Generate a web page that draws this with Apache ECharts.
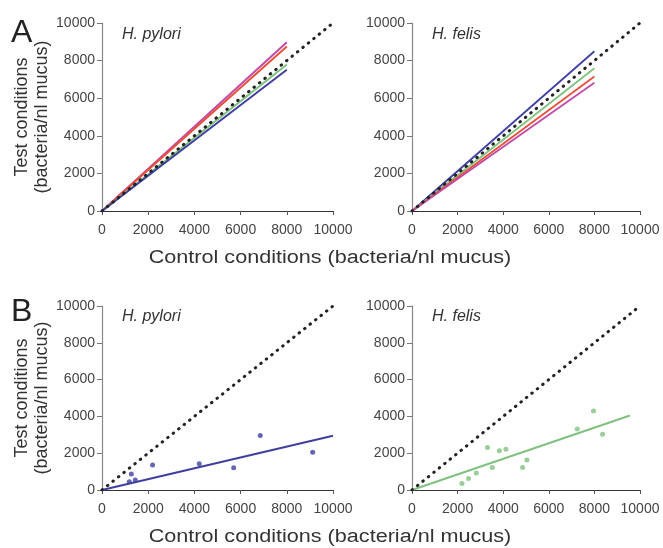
<!DOCTYPE html>
<html><head><meta charset="utf-8">
<script src="https://cdn.jsdelivr.net/npm/echarts@6/dist/echarts.min.js"></script>
<style>html,body{margin:0;padding:0;background:#fff}#c{width:663px;height:548px}</style>
</head><body><div id="c"></div>
<script>
// Axis ticks
var tickValues = [0, 2000, 4000, 6000, 8000, 10000];
// Identity reference line
var identityLine = [[0, 0], [10000, 10000]];
// Panel A, H. pylori: lines from origin to x=8000
var aPyloriNames = ['magenta', 'red', 'green', 'blue'];
var aPyloriEnd = [8980, 8750, 7790, 7510];
// Panel A, H. felis
var aFelisNames = ['blue', 'green', 'red', 'magenta'];
var aFelisEnd = [8500, 7590, 7150, 6820];
var lineX = 8000;
// Panel B, H. pylori points
var bPyloriX = [1180, 1270, 1440, 2190, 4210, 5700, 6850, 9120];
var bPyloriY = [450, 870, 545, 1360, 1420, 1215, 2960, 2050];
var bPyloriFit = [[0, 0], [10000, 2950]];
// Panel B, H. felis points
var bFelisX = [2190, 2480, 2820, 3310, 3520, 3830, 4120, 4850, 5040, 7250, 7960, 8360];
var bFelisY = [360, 630, 930, 2310, 1220, 2130, 2220, 1220, 1630, 3310, 4300, 3030];
var bFelisFit = [[0, 0], [9560, 4050]];

var colors = {magenta: '#c04aa6', red: '#e8503a', green: '#7fc17f', blue: '#3f3fa0'};
var FONT = '"Liberation Sans", Arial, sans-serif';

var grids = [
  {left: 102, top: 23, width: 231, height: 188},
  {left: 412, top: 23, width: 228, height: 188},
  {left: 102, top: 306, width: 231, height: 184},
  {left: 412, top: 306, width: 228, height: 184}
];

function xAx(i) {
  return {gridIndex: i, type: 'value', min: tickValues[0], max: tickValues[tickValues.length - 1], interval: tickValues[1] - tickValues[0],
    axisLine: {lineStyle: {color: '#333', width: 1.2}},
    axisTick: {show: true, length: 4, lineStyle: {color: '#555'}},
    splitLine: {show: false},
    axisLabel: {color: '#444', fontSize: 14, fontFamily: FONT, margin: 12, formatter: function (v) { return String(v); }}};
}
function yAx(i) {
  var o = {gridIndex: i, type: 'value', min: tickValues[0], max: tickValues[tickValues.length - 1], interval: tickValues[1] - tickValues[0],
    axisLine: {show: true, lineStyle: {color: '#888', width: 1.2}},
    axisTick: {show: true, length: 5, lineStyle: {color: '#777'}},
    splitLine: {show: false},
    axisLabel: {color: '#444', fontSize: 14, fontFamily: FONT, margin: 7, formatter: function (v) { return String(v); }}};
  if (i === 0 || i === 2) {
    o.name = 'Test conditions\n(bacteria/nl mucus)';
    o.nameLocation = 'middle';
    o.nameRotate = 90;
    o.nameGap = 50;
    o.nameTextStyle = {color: '#333', fontSize: 18, fontFamily: FONT, lineHeight: 20};
  }
  return o;
}

var series = [];
function dotted(i) {
  series.push({type: 'line', xAxisIndex: i, yAxisIndex: i, data: identityLine, symbol: 'none',
    lineStyle: {color: '#222', width: 3, type: [0.5, 6.5], cap: 'round'}, z: 5, silent: true});
}
for (var i = 0; i < 4; i++) dotted(i);
aPyloriNames.forEach(function (n, k) {
  series.push({type: 'line', xAxisIndex: 0, yAxisIndex: 0, symbol: 'none',
    data: [[0, 0], [lineX, aPyloriEnd[k]]], lineStyle: {color: colors[n], width: 2}});
});
aFelisNames.forEach(function (n, k) {
  series.push({type: 'line', xAxisIndex: 1, yAxisIndex: 1, symbol: 'none',
    data: [[0, 0], [lineX, aFelisEnd[k]]], lineStyle: {color: colors[n], width: 1.8}});
});
series.push({type: 'line', xAxisIndex: 2, yAxisIndex: 2, symbol: 'none', data: bPyloriFit,
  lineStyle: {color: colors.blue, width: 2}});
series.push({type: 'scatter', xAxisIndex: 2, yAxisIndex: 2, symbolSize: 5,
  data: bPyloriX.map(function (x, k) { return [x, bPyloriY[k]]; }), itemStyle: {color: colors.blue}});
series.push({type: 'line', xAxisIndex: 3, yAxisIndex: 3, symbol: 'none', data: bFelisFit,
  lineStyle: {color: colors.green, width: 2}});
series.push({type: 'scatter', xAxisIndex: 3, yAxisIndex: 3, symbolSize: 5,
  data: bFelisX.map(function (x, k) { return [x, bFelisY[k]]; }), itemStyle: {color: colors.green}});

var tfont = 'italic 16px ' + FONT;
var xlab = 'Control conditions (bacteria/nl mucus)';
var chart = echarts.init(document.getElementById('c'), null, {renderer: 'canvas'});
chart.setOption({
  animation: false,
  grid: grids,
  xAxis: [0, 1, 2, 3].map(xAx),
  yAxis: [0, 1, 2, 3].map(yAx),
  series: series,
  graphic: [
    {type: 'text', left: 11, top: 17, style: {text: 'A', fontSize: 32, fontFamily: FONT, fill: '#222'}},
    {type: 'text', left: 11, top: 296, style: {text: 'B', fontSize: 32, fontFamily: FONT, fill: '#222'}},
    {type: 'text', left: 122, top: 27, style: {text: 'H. pylori', font: tfont, fill: '#333'}},
    {type: 'text', left: 432, top: 27, style: {text: 'H. felis', font: tfont, fill: '#333'}},
    {type: 'text', left: 122, top: 309, style: {text: 'H. pylori', font: tfont, fill: '#333'}},
    {type: 'text', left: 432, top: 309, style: {text: 'H. felis', font: tfont, fill: '#333'}},
    {type: 'text', x: 330, y: 258, scaleX: 1.2, style: {text: xlab, font: '18px ' + FONT, fill: '#333', textAlign: 'center', textVerticalAlign: 'middle'}},
    {type: 'text', x: 330, y: 537, scaleX: 1.2, style: {text: xlab, font: '18px ' + FONT, fill: '#333', textAlign: 'center', textVerticalAlign: 'middle'}}
  ]
});
</script></body></html>
